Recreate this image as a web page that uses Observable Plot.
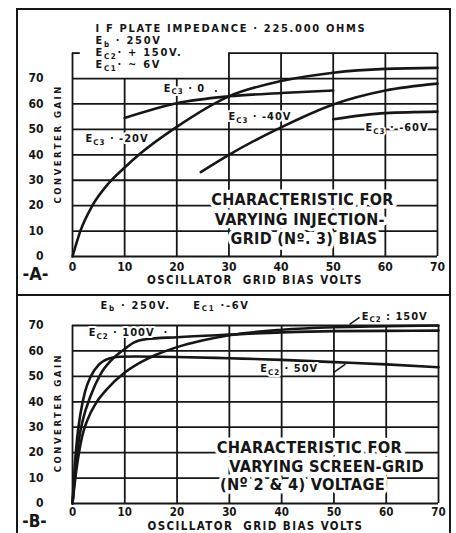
<!DOCTYPE html>
<html><head><meta charset="utf-8">
<script src="https://cdn.jsdelivr.net/npm/d3@7"></script>
<script src="https://cdn.jsdelivr.net/npm/@observablehq/plot@0.6"></script>
<style>
html,body{margin:0;padding:0;background:#fff;overflow:hidden;width:456px;height:533px}
#wrap{position:absolute;left:16px;top:8px;width:431px;height:560px;border:2px solid #161616;border-bottom:none}
#wrap svg{display:block}
.sep{height:2px;background:#161616}
</style></head>
<body><div id="wrap"><div id="a"></div><div class="sep"></div><div id="b"></div></div>
<script>
// ---------- data ----------
const gridTicks = [0, 10, 20, 30, 40, 50, 60, 70];

// Panel A : varying injection-grid (No.3) bias
const aBiasN20 = [0, 1.5, 3.8, 6.8, 10, 13, 20, 30, 40, 50, 60, 70];
const aGainN20 = [0, 10, 20, 28.5, 35, 40.5, 51, 63, 69, 72.3, 73.8, 74.2];
const aBias0 = [10, 20, 30, 40, 50];
const aGain0 = [54.5, 60.3, 63, 64.3, 65.3];
const aBiasN40 = [24.6, 30, 40, 50, 60, 70];
const aGainN40 = [33.2, 40, 50.8, 59.8, 65.3, 68];
const aBiasN60 = [50, 60, 70];
const aGainN60 = [54, 56.4, 57];

// Panel B : varying screen-grid (No.2 & 4) voltage
const bBias50 = [0, 0.4, 0.9, 1.5, 2.4, 3.5, 5, 7, 9, 12, 20, 30, 40, 50, 60, 70];
const bGain50 = [0, 14, 26, 35, 44, 50, 54.5, 57, 57.7, 57.8, 57.6, 57.1, 56.5, 55.6, 54.7, 53.6];
const bBias100 = [0, 0.6, 1.3, 2, 3.4, 5.4, 7.5, 9.8, 11.7, 14, 20, 30, 40, 50, 60, 70];
const bGain100 = [0, 14, 26, 33, 42, 51, 56.5, 60.5, 63.3, 64.6, 65.4, 66.4, 67.3, 67.8, 67.9, 68];
const bBias150 = [0, 0.8, 1.8, 2.8, 4.5, 6.6, 10, 13, 16, 19.7, 25, 30, 40, 50, 60, 70];
const bGain150 = [0, 14, 26, 32.6, 39.5, 45, 51.5, 55.5, 58.5, 61.3, 64.2, 66.2, 68.3, 69.3, 69.7, 70];

// text
const aHeader = ["I F PLATE IMPEDANCE · 225.000 OHMS", "E_{b} · 250V", "E_{C2}· + 150V.", "E_{C1}· ~ 6V"];
const aHeaderX = [4.4, 4.4, 4.4, 4.4];
const aHeaderY = [89.7, 84.9, 80.2, 75.5];
const aCurveLabels = ["E_{C3} · 0\u00a0\u00a0.", "E_{C3} · -40V", "E_{C3} · -60V", "E_{C3} · -20V"];
const aCurveLabelX = [17.5, 29.9, 56.2, 2.5];
const aCurveLabelY = [66.1, 55, 50.7, 46.4];
const aBlock = ["CHARACTERISTIC FOR", "VARYING INJECTION-", "GRID (Nº. 3) BIAS"];
const aBlockX = [44.1, 43.6, 44.4];
const aBlockY = [22.4, 14.5, 7.1];

const bHeader = ["E_{b} · 250V.", "E_{C1} ·-6V"];
const bHeaderX = [5.35, 23.1];
const bHeaderY = [77.9, 77.9];
const bCurveLabels = ["E_{C2} · 100V\u00a0\u00a0·", "E_{C2} : 150V", "E_{C2} · 50V"];
const bCurveLabelX = [3.1, 55.3, 35.9];
const bCurveLabelY = [67.2, 73.6, 53.1];
const bLeaderX1 = [53, 49.9], bLeaderY1 = [70.4, 51.5], bLeaderX2 = [54.9, 52.2], bLeaderY2 = [73.2, 54.8];
const bBlock = ["CHARACTERISTIC FOR", "VARYING SCREEN-GRID", "(Nº 2 & 4) VOLTAGE"];
const bBlockX = [45.3, 48.6, 44];
const bBlockY = [22, 14.5, 7.5];

const xTitle = "OSCILLATOR  GRID BIAS VOLTS";
const yTitle = "CONVERTER GAIN";

// ---------- helpers ----------
const ink = "#161616";
const FONT = '"DejaVu Sans Condensed","Liberation Sans Narrow","Arial Narrow","DejaVu Sans",sans-serif';
const series = (name, xs, ys) => xs.map((x, i) => ({name, x, y: ys[i]}));
const labels = (ts, xs, ys) => ts.map((text, i) => ({text, x: xs[i], y: ys[i]}));

const spacing = new Map();
[...aHeader, ...bHeader].forEach(t => spacing.set(t, 1.7));
[...aCurveLabels, ...bCurveLabels].forEach(t => spacing.set(t, 1));
[...aBlock, ...bBlock].forEach(t => spacing.set(t, 0.3));
spacing.set(xTitle, 1.4);
spacing.set(yTitle, 2.5);

function finish(svg) {
  d3.select(svg).selectAll("text").each(function () {
    const s = this.textContent;
    const el = d3.select(this);
    if (spacing.has(s)) el.style("letter-spacing", spacing.get(s) + "px");
    if (!s.includes("_{")) return;
    el.text(null);
    const parts = s.split(/_\{([^}]*)\}/);
    let shifted = false;
    parts.forEach((p, i) => {
      if (p === "") return;
      const t = el.append("tspan").text(p);
      if (i % 2 === 1) { t.attr("font-size", "72%").attr("dy", 2.5); shifted = true; }
      else if (shifted) { t.attr("dy", -2.5); shifted = false; }
    });
  });
}

const curveStyle = {x: "x", y: "y", z: "name", stroke: ink, strokeWidth: 2.6, curve: "monotone-x"};
const gridW = 1.8;
const smallText = {x: "x", y: "y", text: "text", textAnchor: "start", fontSize: 11, fontWeight: "bold", fill: ink};
const blockText = {x: "x", y: "y", text: "text", textAnchor: "middle", fontSize: 16, fontWeight: "bold", fill: ink, stroke: "white", strokeWidth: 7};

// ---------- panel A ----------
const aData = [
  ...series("-20", aBiasN20, aGainN20),
  ...series("0", aBias0, aGain0),
  ...series("-40", aBiasN40, aGainN40),
  ...series("-60", aBiasN60, aGainN60)
];

const A = Plot.plot({
  width: 431, height: 284,
  marginLeft: 54, marginRight: 12, marginTop: 42.6, marginBottom: 38,
  x: {domain: [0, 70]}, y: {domain: [0, 80]},
  style: {fontFamily: FONT, background: "white", color: ink, overflow: "visible"},
  marks: [
    Plot.ruleY(gridTicks, {x1: 0, x2: 70, stroke: ink, strokeWidth: gridW}),
    Plot.ruleX(gridTicks, {y1: 0, y2: d => (d === 0 || d >= 30) ? 80 : 70, stroke: ink, strokeWidth: gridW}),
    Plot.ruleY([80], {x1: 30, x2: 70, stroke: ink, strokeWidth: gridW}),
    Plot.ruleY([80], {x1: 0, x2: 1.5, stroke: ink, strokeWidth: gridW}),
    Plot.line(aData, curveStyle),
    Plot.text(labels(aHeader, aHeaderX, aHeaderY), {...smallText, stroke: "white", strokeWidth: 5}),
    Plot.text(labels(aCurveLabels, aCurveLabelX, aCurveLabelY), {...smallText, stroke: "white", strokeWidth: 4}),
    Plot.text(labels(aBlock, aBlockX, aBlockY), blockText),
    Plot.axisY({ticks: gridTicks, tickSize: 0, tickPadding: 29, fontSize: 12, fontWeight: "bold", label: null}),
    Plot.axisX({ticks: gridTicks, tickSize: 0, tickPadding: 6, fontSize: 12, fontWeight: "bold", label: null}),
    Plot.text([xTitle], {frameAnchor: "bottom", dy: 27, fontSize: 11.5, fontWeight: "bold", fill: ink}),
    Plot.text(["-A-"], {frameAnchor: "bottom-left", textAnchor: "middle", dx: -37, dy: 23, fontSize: 18, fontWeight: "bold", fill: ink}),
    Plot.text([yTitle], {frameAnchor: "left", textAnchor: "middle", rotate: -90, dx: -15, dy: -11, fontSize: 9.5, fontWeight: "bold", fill: ink})
  ]
});
finish(A);
document.getElementById("a").append(A);

// ---------- panel B ----------
const bData = [
  ...series("50", bBias50, bGain50),
  ...series("100", bBias100, bGain100),
  ...series("150", bBias150, bGain150)
];
const bLeaders = bLeaderX1.map((x1, i) => ({x1, y1: bLeaderY1[i], x2: bLeaderX2[i], y2: bLeaderY2[i]}));

const B = Plot.plot({
  width: 431, height: 240,
  marginLeft: 54, marginRight: 11, marginTop: 29, marginBottom: 33,
  x: {domain: [0, 70]}, y: {domain: [0, 70]},
  style: {fontFamily: FONT, background: "white", color: ink, overflow: "visible"},
  marks: [
    Plot.ruleY(gridTicks, {x1: 0, x2: 70, stroke: ink, strokeWidth: gridW}),
    Plot.ruleX(gridTicks, {y1: 0, y2: 70, stroke: ink, strokeWidth: gridW}),
    Plot.line(bData, curveStyle),
    Plot.link(bLeaders, {x1: "x1", y1: "y1", x2: "x2", y2: "y2", stroke: ink, strokeWidth: 1.5}),
    Plot.text(labels(bHeader, bHeaderX, bHeaderY), smallText),
    Plot.text(labels(bCurveLabels, bCurveLabelX, bCurveLabelY), {...smallText, stroke: "white", strokeWidth: 4}),
    Plot.text(labels(bBlock, bBlockX, bBlockY), {...blockText, fontSize: 16.3}),
    Plot.axisY({ticks: gridTicks, tickSize: 0, tickPadding: 29, fontSize: 12, fontWeight: "bold", label: null}),
    Plot.axisX({ticks: gridTicks, tickSize: 0, tickPadding: 4, fontSize: 11.5, fontWeight: "bold", label: null}),
    Plot.text([xTitle], {frameAnchor: "bottom", dy: 26, fontSize: 11.5, fontWeight: "bold", fill: ink}),
    Plot.text(["-B-"], {frameAnchor: "bottom-left", textAnchor: "middle", dx: -38, dy: 23, fontSize: 17, fontWeight: "bold", fill: ink}),
    Plot.text([yTitle], {frameAnchor: "left", textAnchor: "middle", rotate: -90, dx: -15, dy: -2, fontSize: 9.5, fontWeight: "bold", fill: ink})
  ]
});
finish(B);
document.getElementById("b").append(B);
</script>
</body></html>
